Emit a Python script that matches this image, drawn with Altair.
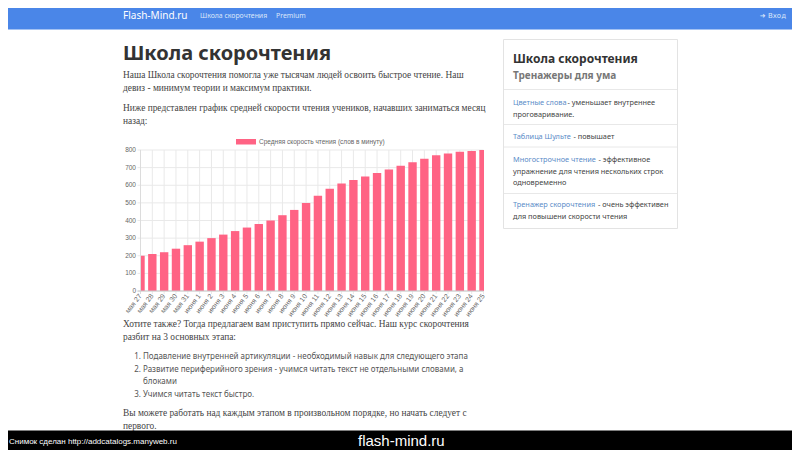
import altair as alt
import pandas as pd

# ---------------- data ----------------
days = ["мая 27", "мая 28", "мая 29", "мая 30", "мая 31",
        "июня 1", "июня 2", "июня 3", "июня 4", "июня 5", "июня 6", "июня 7",
        "июня 8", "июня 9", "июня 10", "июня 11", "июня 12", "июня 13", "июня 14",
        "июня 15", "июня 16", "июня 17", "июня 18", "июня 19", "июня 20",
        "июня 21", "июня 22", "июня 23", "июня 24", "июня 25"]
speeds = [200, 210, 220, 240, 260, 280, 300, 320, 340, 360, 380, 400, 430, 460, 500,
          540, 580, 610, 630, 650, 670, 690, 710, 730, 750, 770, 780, 790, 795, 800]
y_ticks = [0, 100, 200, 300, 400, 500, 600, 700, 800]
legend_label = ["Средняя скорость чтения (слов в минуту)"]

nav_brand = ["Flash-Mind.ru"]
nav_links = ["Школа скорочтения", "Premium"]
nav_login = ["➜ Вход"]
page_title = ["Школа скорочтения"]
intro_lines = ["Наша Школа скорочтения помогла уже тысячам людей освоить быстрое чтение. Наш",
               "девиз - минимум теории и максимум практики.",
               "Ниже представлен график средней скорости чтения учеников, начавших заниматься месяц",
               "назад:"]
outro_lines = ["Хотите также? Тогда предлагаем вам приступить прямо сейчас. Наш курс скорочтения",
               "разбит на 3 основных этапа:"]
list_numbers = ["1.", "2.", "3."]
list_lines = ["Подавление внутренней артикуляции - необходимый навык для следующего этапа",
              "Развитие периферийного зрения - учимся читать текст не отдельными словами, а",
              "блоками",
              "Учимся читать текст быстро."]
final_lines = ["Вы можете работать над каждым этапом в произвольном порядке, но начать следует с",
               "первого."]
side_title = ["Школа скорочтения"]
side_subtitle = ["Тренажеры для ума"]
side_links = ["Цветные слова", "Таблица Шульте", "Многострочное чтение", "Тренажер скорочтения"]
side_desc = [["- уменьшает внутреннее", "проговаривание."],
             ["- повышает"],
             ["- эффективное", "упражнение для чтения нескольких строк", "одновременно"],
             ["- очень эффективен", "для повышени скорости чтения"]]
footer_left = ["Снимок сделан http://addcatalogs.manyweb.ru"]
footer_right = ["flash-mind.ru"]

# ---------------- helpers ----------------
SERIF = "Liberation Serif"
SANS = "Noto Sans"
CHART_FONT = "Liberation Sans"
OFF = 8  # page margin


def px(v):
    return v - OFF


def txt(s, x, y, size, color, font=SANS, weight="normal", align="left"):
    return alt.Chart(pd.DataFrame({"t": [s]})).mark_text(
        align=align, baseline="alphabetic", fontSize=size, color=color,
        font=font, fontWeight=weight
    ).encode(x=alt.value(px(x)), y=alt.value(px(y)), text="t:N")


def box(x1, y1, x2, y2, fill, stroke=None):
    kw = dict(color=fill)
    if stroke:
        kw.update(stroke=stroke, strokeWidth=1)
    return alt.Chart(pd.DataFrame({"a": [0]})).mark_rect(**kw).encode(
        x=alt.value(px(x1)), x2=alt.value(px(x2)),
        y=alt.value(px(y1)), y2=alt.value(px(y2)))


def hline(x1, x2, y, color):
    return alt.Chart(pd.DataFrame({"a": [0]})).mark_rule(color=color, strokeWidth=1).encode(
        x=alt.value(px(x1)), x2=alt.value(px(x2)), y=alt.value(px(y)))


layers = []
BODY = 9.4
LIST = 8.0
SIDE = 7.35

# ---------------- page chrome ----------------
layers.append(box(0, 0, 800, 29.5, "#4a86e8"))
layers.append(txt(nav_brand[0], 123, 19, 10, "#ffffff"))
layers.append(txt(nav_links[0], 200, 18, 6.9, "#dce7fa"))
layers.append(txt(nav_links[1], 276, 18, 6.9, "#dce7fa"))
layers.append(txt(nav_login[0], 786, 18, 7, "#dce7fa", font="DejaVu Sans", align="right"))

layers.append(txt(page_title[0], 123, 59.5, 20, "#333333", weight="bold"))
for s, y in zip(intro_lines, [77.5, 91, 110.5, 124]):
    layers.append(txt(s, 123, y, BODY, "#444444", font=SERIF))
for s, y in zip(outro_lines, [327, 340]):
    layers.append(txt(s, 123, y, BODY, "#444444", font=SERIF))
for s, y in zip(list_numbers, [358.5, 371.5, 397]):
    layers.append(txt(s, 141, y, LIST, "#555555", align="right"))
for s, y in zip(list_lines, [358.5, 371.5, 384, 397]):
    layers.append(txt(s, 143, y, LIST, "#555555"))
for s, y in zip(final_lines, [415.5, 428.5]):
    layers.append(txt(s, 123, y, BODY, "#444444", font=SERIF))

# sidebar
layers.append(box(503.5, 39.5, 677.5, 228.5, "#ffffff", stroke="#e3e3e3"))
for y in [89.5, 124.5, 147, 193.5]:
    layers.append(hline(504, 677, y, "#e8e8e8"))
layers.append(txt(side_title[0], 513, 63, 12, "#333333", weight="bold"))
layers.append(txt(side_subtitle[0], 513, 78.5, 10, "#777777", weight="bold"))
link_pos = [(105, 567.5), (139, 573.5), (162, 598.5), (207, 598)]
desc_rows = [[105, 117], [139], [162, 173.5, 185], [207, 219]]
for name, (y, xd), descs, ys in zip(side_links, link_pos, side_desc, desc_rows):
    layers.append(txt(name, 513, y, SIDE, "#5b8cc8"))
    layers.append(txt(descs[0], xd, ys[0], SIDE, "#444444"))
    for d, yy in zip(descs[1:], ys[1:]):
        layers.append(txt(d, 513, yy, SIDE, "#444444"))

# footer bar
layers.append(box(0, 430.5, 800, 470, "#000000"))
layers.append(txt(footer_left[0], 9, 444, 8, "#ffffff", font=CHART_FONT))
layers.append(txt(footer_right[0], 358, 446, 15, "#ffffff", font=CHART_FONT))

# ---------------- bar chart ----------------
X0, X1 = 140.5, 483.5      # first / last category centre (screen)
Y0, Y800 = 291, 150        # value 0 / value 800 (screen)
xs = alt.Scale(type="point", domain=days, range=[px(X0), px(X1)], padding=0)
ys = alt.Scale(domain=[0, 800], range=[px(Y0), px(Y800)], zero=True, nice=False)

bars_df = pd.DataFrame({"day": days, "speed": speeds})
ticks_df = pd.DataFrame({"v": y_ticks, "lab": [str(v) for v in y_ticks]})
GRID = "#e9e9e9"

hgrid = alt.Chart(ticks_df).mark_rule(color=GRID, strokeWidth=1).encode(
    y=alt.Y("v:Q", scale=ys, axis=None),
    x=alt.value(px(X0 - 3)), x2=alt.value(px(X1)))
vgrid = alt.Chart(bars_df).mark_rule(color=GRID, strokeWidth=1).encode(
    x=alt.X("day:N", scale=xs, axis=None, sort=days),
    y=alt.value(px(Y800)), y2=alt.value(px(Y0 + 3)))
bars = alt.Chart(bars_df).mark_bar(size=8.4, color="#ff6384").encode(
    x=alt.X("day:N", scale=xs, axis=None, sort=days),
    y=alt.Y("speed:Q", scale=ys, axis=None))
masks = [box(X0 - 7, Y800 - 2, X0 - 0.5, Y0, "#ffffff"),
         box(X1 + 0.5, Y800 - 2, X1 + 7, Y0, "#ffffff")]
stubs = alt.Chart(ticks_df).mark_rule(color=GRID, strokeWidth=1).encode(
    y=alt.Y("v:Q", scale=ys, axis=None),
    x=alt.value(px(X0 - 3)), x2=alt.value(px(X0)))
yaxis_line = alt.Chart(pd.DataFrame({"a": [0]})).mark_rule(color="#dcdcdc").encode(
    x=alt.value(px(X0)), y=alt.value(px(Y800)), y2=alt.value(px(Y0 + 3)))
xaxis_line = alt.Chart(pd.DataFrame({"a": [0]})).mark_rule(color="#c8c8c8").encode(
    x=alt.value(px(X0 - 3)), x2=alt.value(px(X1)), y=alt.value(px(Y0)))
ylabels = alt.Chart(ticks_df).mark_text(
    align="right", baseline="middle", fontSize=6.5, color="#666666", font=CHART_FONT
).encode(y=alt.Y("v:Q", scale=ys, axis=None), x=alt.value(px(X0 - 4.5)), text="lab:N")
xlabels = alt.Chart(bars_df).mark_text(
    align="right", baseline="middle", fontSize=7, color="#666666", font=CHART_FONT, angle=308
).encode(x=alt.X("day:N", scale=xs, axis=None, sort=days), y=alt.value(px(Y0 + 4)), text="day:N")

legend_box = box(236, 139, 256, 144.5, "#ff6384")
legend_txt = txt(legend_label[0], 259, 144.3, 6.5, "#666666", font=CHART_FONT)

layers += [hgrid, vgrid, bars] + masks + [stubs, yaxis_line, xaxis_line, ylabels, xlabels,
                                          legend_box, legend_txt]

chart = alt.layer(*layers).properties(
    width=784, height=442, padding=0, autosize=alt.AutoSizeParams(type="none")
).configure_view(stroke=None)

chart.save("out.html", embed_options={"renderer": "svg", "actions": False})
